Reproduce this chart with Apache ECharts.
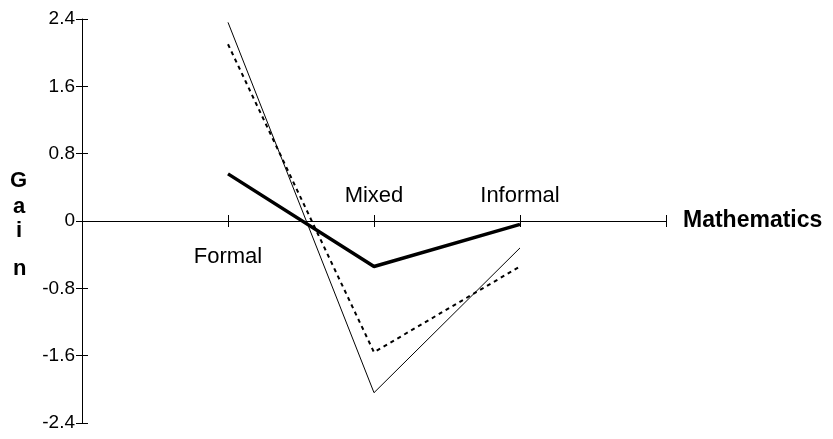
<!DOCTYPE html>
<html>
<head>
<meta charset="utf-8">
<script src="https://cdn.jsdelivr.net/npm/echarts@6/dist/echarts.min.js"></script>
<style>
    html, body { margin: 0; padding: 0; background: #fff; }
    #chart { width: 833px; height: 439px; }
</style>
</head>
<body>
<div id="chart"></div>
<script>
// categories sit at x = 1, 2, 3 on a 0..4 axis
const categories = ['Formal', 'Mixed', 'Informal']
const catPositions = [1, 2, 3]
const labelSides = ['bottom', 'top', 'top']
const yTicks = [-2.4, -1.6, -0.8, 0, 0.8, 1.6, 2.4]

const thickValues = [0.56, -0.54, -0.04]
const thinValues = [2.36, -2.04, -0.32]
const dashedValues = [2.10, -1.56, -0.54]

const font = 'Liberation Sans, Arial, sans-serif'
const toPoints = (vals) => vals.map((v, i) => [catPositions[i], v])

const xAxisBase = {
    type: 'value',
    min: 0,
    max: 4,
    interval: 1,
    splitLine: { show: false },
    axisLine: { onZero: true, lineStyle: { color: '#000', width: 1 } },
    axisTick: { length: 6, lineStyle: { color: '#000' } },
    axisLabel: { show: false }
}

const chart = echarts.init(document.getElementById('chart'))
chart.setOption({
    animation: false,
    grid: { left: 82, right: 167, top: 19, bottom: 16, outerBoundsMode: 'none', containLabel: false },
    xAxis: [Object.assign({}, xAxisBase, {
        position: 'bottom',
        name: 'Mathematics',
        nameLocation: 'end',
        nameGap: 17,
        nameTextStyle: { fontSize: 23, fontWeight: 'bold', fontFamily: font, color: '#000' }
    }), Object.assign({}, xAxisBase, {
        position: 'top'
    })],
    yAxis: [{
        type: 'value',
        min: yTicks[0],
        max: yTicks[yTicks.length - 1],
        interval: 0.8,
        splitLine: { show: false },
        axisLine: { show: true, onZero: false, lineStyle: { color: '#000', width: 1 } },
        axisTick: { show: true, length: 6, lineStyle: { color: '#000' } },
        axisLabel: { margin: 7, fontSize: 19, fontFamily: font, color: '#000' }
    }, {
        type: 'value',
        min: yTicks[0],
        max: yTicks[yTicks.length - 1],
        interval: 0.8,
        position: 'left',
        splitLine: { show: false },
        axisLine: { show: false, onZero: false },
        axisTick: { show: true, inside: true, length: 6, lineStyle: { color: '#000' } },
        axisLabel: { show: false }
    }],
    graphic: [
        { type: 'text', left: 10, top: 170, style: { text: 'G', fontSize: 22, fontWeight: 'bold', fontFamily: font, fill: '#000' } },
        { type: 'text', left: 13, top: 196, style: { text: 'a', fontSize: 22, fontWeight: 'bold', fontFamily: font, fill: '#000' } },
        { type: 'text', left: 16, top: 220, style: { text: 'i', fontSize: 22, fontWeight: 'bold', fontFamily: font, fill: '#000' } },
        { type: 'text', left: 13, top: 258, style: { text: 'n', fontSize: 22, fontWeight: 'bold', fontFamily: font, fill: '#000' } }
    ],
    series: [{
        type: 'line',
        data: toPoints(thinValues),
        symbol: 'none',
        lineStyle: { color: '#000', width: 1 }
    }, {
        type: 'line',
        data: toPoints(dashedValues),
        symbol: 'none',
        lineStyle: { color: '#000', width: 2, type: [4, 4] }
    }, {
        type: 'line',
        data: toPoints(thickValues),
        symbol: 'none',
        lineStyle: { color: '#000', width: 3.5 }
    }, {
        // category names placed at the zero line through the axes
        type: 'scatter',
        symbolSize: 0,
        silent: true,
        itemStyle: { opacity: 1, color: '#000' },
        data: categories.map((c, i) => ({
            value: [catPositions[i], 0],
            name: c,
            label: {
                show: true,
                position: labelSides[i],
                distance: labelSides[i] === 'bottom' ? 25 : 14,
                formatter: '{b}',
                fontSize: 22,
                fontFamily: font,
                color: '#000',
                opacity: 1
            }
        }))
    }]
})
</script>
</body>
</html>
